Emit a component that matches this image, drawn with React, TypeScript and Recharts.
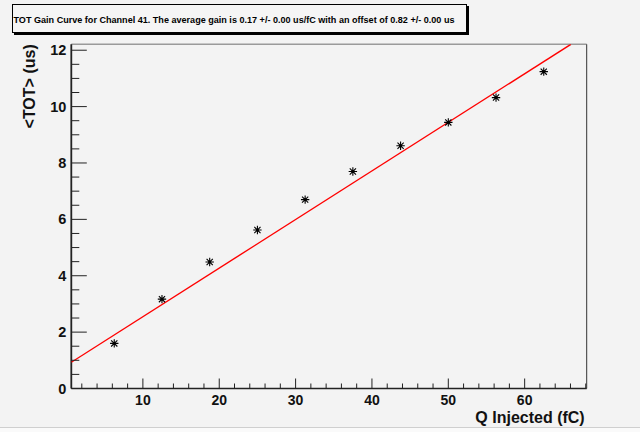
import React from 'react';
import { ComposedChart, Scatter, XAxis, YAxis, ReferenceLine } from 'recharts';

// ---- data ----
const chargeFC = [6.25, 12.5, 18.75, 25, 31.25, 37.5, 43.75, 50, 56.25, 62.5];
const meanTOT = [1.6, 3.17, 4.49, 5.62, 6.7, 7.7, 8.61, 9.44, 10.32, 11.24];
const fitX = [0.625, 66.05];
const fitY = [0.93, 12.21];

const xTicks = [2, 4, 6, 8, 10, 12, 14, 16, 18, 20, 22, 24, 26, 28, 30, 32, 34, 36, 38, 40, 42, 44, 46, 48, 50, 52, 54, 56, 58, 60, 62, 64, 66, 68];
const xLabels = [10, 20, 30, 40, 50, 60];
const yTicks = [0, 0.5, 1, 1.5, 2, 2.5, 3, 3.5, 4, 4.5, 5, 5.5, 6, 6.5, 7, 7.5, 8, 8.5, 9, 9.5, 10, 10.5, 11, 11.5, 12];
const yLabels = [0, 2, 4, 6, 8, 10, 12];
const xDomain = [0.625, 68.125];
const yDomain = [0, 12.21];

const titleText = 'TOT Gain Curve for Channel 41. The average gain is 0.17 +/- 0.00 us/fC with an offset of 0.82 +/- 0.00 us';
const xTitle = 'Q Injected (fC)';
const yTitle = '<TOT> (us)';

const points = chargeFC.map((x, i) => ({ x, y: meanTOT[i] }));
const fitLine = fitX.map((x, i) => ({ x, y: fitY[i] }));

const FONT = '"Liberation Sans", Arial, Helvetica, sans-serif';
const BG = '#f3f3f3';

const XTick = (props: any) => {
  const { x, y, payload } = props;
  const v = payload.value;
  const major = xLabels.includes(v);
  return (
    <g>
      <line x1={x} x2={x} y1={y} y2={y - (major ? 10 : 5)} stroke="#222" strokeWidth={1} />
      {major && (
        <text x={x} y={y + 16} textAnchor="middle" fontFamily={FONT} fontWeight="bold" fontSize={14} fill="#111">
          {v}
        </text>
      )}
    </g>
  );
};

const YTick = (props: any) => {
  const { x, y, payload } = props;
  const v = payload.value;
  const major = yLabels.includes(v);
  return (
    <g>
      <line x1={x} x2={x + (major ? 15.5 : 8)} y1={y} y2={y} stroke="#222" strokeWidth={1} />
      {major && (
        <text x={x - 5} y={y + 5} textAnchor="end" fontFamily={FONT} fontWeight="bold" fontSize={14.5} fill="#111">
          {v}
        </text>
      )}
    </g>
  );
};

const Asterisk = (props: any) => {
  const { cx, cy } = props;
  if (cx == null || cy == null) return null;
  const r = 4.2;
  const d = 3.1;
  return (
    <g stroke="#000" strokeWidth={1.1}>
      <line x1={cx - r} x2={cx + r} y1={cy} y2={cy} />
      <line x1={cx} x2={cx} y1={cy - r} y2={cy + r} />
      <line x1={cx - d} x2={cx + d} y1={cy - d} y2={cy + d} />
      <line x1={cx - d} x2={cx + d} y1={cy + d} y2={cy - d} />
      <circle cx={cx} cy={cy} r={1.6} fill="#000" stroke="none" />
    </g>
  );
};

const NoShape = () => null;

const XTitle = (props: any) => {
  const vb = props.viewBox || {};
  return (
    <text x={vb.x + vb.width - 2} y={vb.y + 34} textAnchor="end" fontFamily={FONT} fontWeight="bold" fontSize={16} fill="#111">
      {xTitle}
    </text>
  );
};

const YTitle = (props: any) => {
  const vb = props.viewBox || {};
  const tx = vb.x + vb.width - 36;
  const ty = vb.y;
  return (
    <text x={tx} y={ty} transform={`rotate(-90, ${tx}, ${ty})`} textAnchor="end" fontFamily={FONT} fontWeight="bold" fontSize={16} fill="#111">
      {yTitle}
    </text>
  );
};

export default function App() {
  return (
    <div style={{ position: 'absolute', left: 0, top: 0, width: 640, height: 432, background: BG }}>
      <div style={{ position: 'absolute', left: 0, top: 427, width: 640, height: 5, background: '#fafafa', borderTop: '1px solid #cfcfcf' }} />
      <ComposedChart
        width={640}
        height={432}
        margin={{ top: 44.3, right: 53.3, bottom: 42.5, left: 70.3 }}
        style={{ position: 'absolute', left: 0, top: 0 }}
      >
        <XAxis
          type="number"
          dataKey="x"
          domain={xDomain}
          ticks={xTicks}
          interval={0}
          height={1}
          tickSize={0}
          tickMargin={0}
          tickLine={false}
          tick={<XTick />}
          allowDataOverflow
          axisLine={{ stroke: '#222', strokeWidth: 1.5 }}
          label={{ content: <XTitle /> }}
        />
        <YAxis
          type="number"
          dataKey="y"
          domain={yDomain}
          ticks={yTicks}
          interval={0}
          width={1}
          tickSize={0}
          tickMargin={0}
          tickLine={false}
          tick={<YTick />}
          allowDataOverflow
          axisLine={{ stroke: '#222', strokeWidth: 1.8 }}
          label={{ content: <YTitle /> }}
        />
        <ReferenceLine y={yDomain[1]} stroke="#9a9a9a" strokeWidth={1.5} />
        <ReferenceLine x={xDomain[1]} stroke="#333" strokeWidth={1} />
        <Scatter
          data={fitLine}
          dataKey="y"
          line={{ stroke: '#ff0000', strokeWidth: 1.4 }}
          shape={<NoShape />}
          isAnimationActive={false}
        />
        <Scatter data={points} dataKey="y" shape={<Asterisk />} isAnimationActive={false} />
      </ComposedChart>
      <svg width={640} height={40} style={{ position: 'absolute', left: 0, top: 0 }}>
        <rect x={14} y={6} width={455} height={29} fill="#000" />
        <rect x={12.5} y={4.5} width={454} height={28} fill="#f5f5f5" stroke="#000" strokeWidth={1} />
        <text
          x={13.5}
          y={23}
          fontFamily={FONT}
          fontWeight="bold"
          fontSize={9.5}
          fill="#000"
          textLength={441}
          lengthAdjust="spacingAndGlyphs"
        >
          {titleText}
        </text>
      </svg>
    </div>
  );
}
